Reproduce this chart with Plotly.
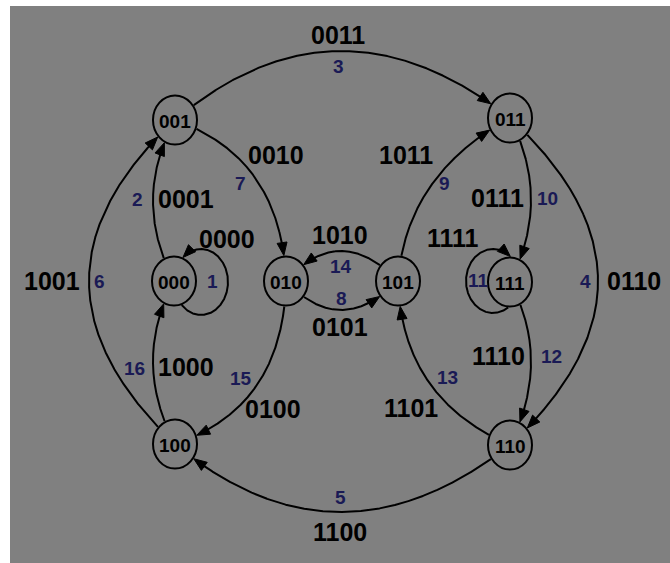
import numpy as np
import plotly.graph_objects as go

# ---------------- data ----------------
NODES = ["000", "001", "010", "011", "100", "101", "110", "111"]
EDGE_NUM = [1, 2, 3, 4, 5, 6, 7, 8, 9, 10, 11, 12, 13, 14, 15, 16]
EDGE_SRC = ["000", "000", "001", "011", "110", "100", "001", "010",
            "101", "011", "111", "111", "110", "101", "010", "100"]
EDGE_DST = ["000", "001", "011", "110", "100", "001", "010", "101",
            "011", "111", "111", "110", "101", "010", "100", "000"]
EDGE_WORD = ["0000", "0001", "0011", "0110", "1100", "1001", "0010", "0101",
             "1011", "0111", "1111", "1110", "1101", "1010", "0100", "1000"]

# ---------------- layout (pixel space) ----------------
NODE_XY = {"000": (174, 281), "001": (175, 120), "010": (286, 281), "011": (510, 118),
           "100": (175, 444), "101": (398, 281), "110": (510, 445), "111": (510, 282)}
NODE_RX, NODE_RY = 22, 24.5

ROUTE = {2: (153, 200), 3: (340, 51), 4: (598, 281), 5: (340, 512), 6: (89, 281),
         7: (256, 179), 8: (341, 310), 9: (430, 187), 10: (531, 200), 12: (531, 362),
         13: (428, 381), 14: (341, 251), 15: (257, 385), 16: (153, 362)}
LOOP = {1: (201, 282, 27, 33, "right"), 11: (493, 281, 27, 32, "left")}

WORD_XY = {1: (227, 239), 2: (186, 199), 3: (338, 35), 4: (634, 281), 5: (340, 532),
           6: (52, 281), 7: (276, 155), 8: (340, 327), 9: (406, 155), 10: (497, 198),
           11: (453, 238), 12: (498, 356), 13: (411, 408), 14: (340, 235), 15: (273, 409),
           16: (186, 367)}
NUM_XY = {1: (212, 281), 2: (137, 199), 3: (338, 66), 4: (585, 281), 5: (340, 497),
          6: (99, 281), 7: (240, 183), 8: (341, 298), 9: (444, 183), 10: (547, 198),
          11: (478, 280), 12: (551, 356), 13: (447, 377), 14: (341, 266), 15: (241, 378),
          16: (134, 368)}

W, H = 670, 563
BG = "#808080"
NAVY = "#1a1a55"
FONT = "Liberation Sans, Arial, sans-serif"
LW = 2.0
AL, AW = 13, 5.0


def inside(p, node, pad=1.0):
    cx, cy = NODE_XY[node]
    return ((p[..., 0] - cx) / (NODE_RX + pad)) ** 2 + ((p[..., 1] - cy) / (NODE_RY + pad)) ** 2 < 1


def arrow_tri(tip, u):
    n = np.array([-u[1], u[0]])
    base = tip - AL * u
    a = base + AW * n
    b = base - AW * n
    return [tip[0], a[0], b[0], tip[0]], [tip[1], a[1], b[1], tip[1]]


def trim_for_arrow(seg, tip):
    d = np.hypot(seg[:, 0] - tip[0], seg[:, 1] - tip[1])
    keep = d >= AL - 3
    idx = np.where(keep)[0]
    last = idx[-1] if len(idx) else 0
    return seg[:last + 1]


fig = go.Figure()
shapes = [dict(type="rect", xref="x", yref="y", x0=10, x1=W + 5, y0=6, y1=H + 5,
               fillcolor=BG, line=dict(width=0), layer="below")]

for k, num in enumerate(EDGE_NUM):
    s, d = EDGE_SRC[k], EDGE_DST[k]
    if s == d:
        cx, cy, rx, ry, side = LOOP[num]
        if side == "right":
            th = np.linspace(np.deg2rad(170), np.deg2rad(-170), 3000)
        else:
            th = np.linspace(np.deg2rad(10), np.deg2rad(350), 3000)
        pts = np.stack([cx + rx * np.cos(th), cy + ry * np.sin(th)], axis=1)
        out = ~inside(pts, s)
        idx = np.where(out)[0]
        seg = pts[idx[0]:idx[-1] + 1]
    else:
        p0 = np.array(NODE_XY[s], float)
        p2 = np.array(NODE_XY[d], float)
        m = np.array(ROUTE[num], float)
        c = 2 * m - 0.5 * (p0 + p2)
        t = np.linspace(0, 1, 3000)[:, None]
        pts = (1 - t) ** 2 * p0 + 2 * (1 - t) * t * c + t ** 2 * p2
        ins = inside(pts, s)
        ind = inside(pts, d)
        i0 = np.where(~ins)[0][0]
        i1 = np.where(~ind)[0][-1]
        seg = pts[i0:i1 + 1]
    tip = seg[-1]
    back = seg[max(0, len(seg) - 40)]
    u = tip - back
    u = u / np.hypot(*u)
    line = trim_for_arrow(seg, tip)
    fig.add_trace(go.Scatter(x=line[:, 0], y=line[:, 1], mode="lines",
                             line=dict(color="black", width=LW), hoverinfo="skip",
                             showlegend=False))
    ax_, ay_ = arrow_tri(tip, u)
    fig.add_trace(go.Scatter(x=ax_, y=ay_, mode="lines", fill="toself",
                             fillcolor="black", line=dict(color="black", width=1),
                             hoverinfo="skip", showlegend=False))

for n in NODES:
    cx, cy = NODE_XY[n]
    shapes.append(dict(type="circle", xref="x", yref="y", x0=cx - NODE_RX, x1=cx + NODE_RX,
                       y0=cy - NODE_RY, y1=cy + NODE_RY, line=dict(color="black", width=LW),
                       fillcolor="rgba(0,0,0,0)"))

annotations = []
for n in NODES:
    cx, cy = NODE_XY[n]
    annotations.append(dict(x=cx, y=cy + 1, text=n, showarrow=False, xref="x", yref="y",
                            font=dict(family=FONT, size=19, color="black", weight="bold"),
                            xanchor="center", yanchor="middle"))
for k, num in enumerate(EDGE_NUM):
    wx, wy = WORD_XY[num]
    annotations.append(dict(x=wx, y=wy, text=EDGE_WORD[k], showarrow=False, xref="x", yref="y",
                            font=dict(family=FONT, size=25, color="black", weight="bold"),
                            xanchor="center", yanchor="middle"))
    nx, ny = NUM_XY[num]
    annotations.append(dict(x=nx, y=ny, text=str(num), showarrow=False, xref="x", yref="y",
                            font=dict(family=FONT, size=19, color=NAVY, weight="bold"),
                            xanchor="center", yanchor="middle"))

fig.update_layout(width=W, height=H, margin=dict(l=0, r=0, t=0, b=0),
                  paper_bgcolor="white", plot_bgcolor="white",
                  shapes=shapes, annotations=annotations, showlegend=False,
                  xaxis=dict(range=[0, W], visible=False, fixedrange=True),
                  yaxis=dict(range=[H, 0], visible=False, fixedrange=True))

fig.write_html("out.html", config={"displayModeBar": False},
               post_script="document.body.style.margin='0px';document.body.style.padding='0px';")
